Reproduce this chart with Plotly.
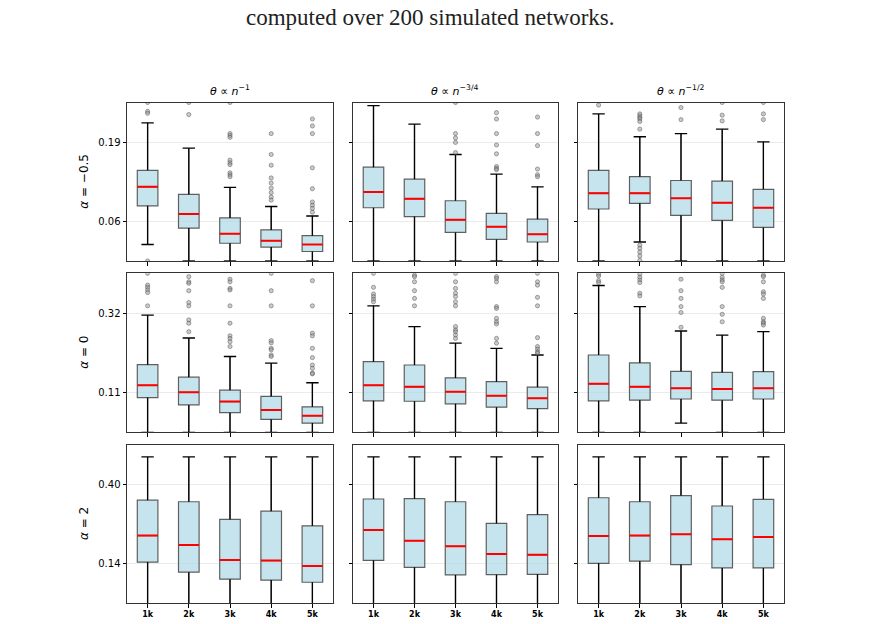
import plotly.graph_objects as go

# ---------------- data ----------------
CATEGORIES = ["1k", "2k", "3k", "4k", "5k"]
X_POS = [1, 2, 3, 4, 5]
COL_TITLES = ["<i>θ</i> ∝ <i>n</i><sup>−1</sup>",
              "<i>θ</i> ∝ <i>n</i><sup>−3/4</sup>",
              "<i>θ</i> ∝ <i>n</i><sup>−1/2</sup>"]
ROW_LABELS = ["<i>α</i> = −0.5", "<i>α</i> = 0", "<i>α</i> = 2"]
CAPTION = "computed over 200 simulated networks."

# row alpha = -0.5 (one list per column)
LOW_R1 = [[0.026, 0.0, 0.0, 0.0, 0.0],
          [0.0, 0.0, 0.0, 0.0, 0.0],
          [0.0, 0.030, 0.0, 0.0, 0.0]]
Q1_R1 = [[0.087, 0.052, 0.028, 0.022, 0.015],
         [0.084, 0.070, 0.045, 0.034, 0.030],
         [0.082, 0.091, 0.072, 0.064, 0.053]]
MED_R1 = [[0.117, 0.074, 0.043, 0.032, 0.026],
          [0.109, 0.098, 0.065, 0.054, 0.042],
          [0.107, 0.107, 0.099, 0.092, 0.084]]
Q3_R1 = [[0.143, 0.105, 0.068, 0.049, 0.040],
         [0.148, 0.129, 0.095, 0.075, 0.066],
         [0.143, 0.133, 0.127, 0.126, 0.113]]
HIGH_R1 = [[0.218, 0.178, 0.116, 0.086, 0.071],
           [0.245, 0.216, 0.168, 0.137, 0.117],
           [0.232, 0.196, 0.201, 0.208, 0.188]]
OUT_R1 = [
    [[0.25, 0.236, 0.233, 0.0],
     [0.25, 0.231],
     [0.25, 0.201, 0.198, 0.195, 0.159, 0.155, 0.152, 0.139, 0.136, 0.133],
     [0.201, 0.168, 0.151, 0.131, 0.123, 0.115, 0.108, 0.101, 0.096],
     [0.224, 0.213, 0.201, 0.147, 0.114, 0.093, 0.088, 0.083, 0.077]],
    [[],
     [],
     [0.25, 0.201, 0.194, 0.187, 0.171],
     [0.234, 0.224, 0.201, 0.183, 0.169, 0.149, 0.146, 0.144],
     [0.227, 0.201, 0.182, 0.145, 0.136, 0.133]],
    [[0.246],
     [0.232, 0.229, 0.226, 0.224, 0.220, 0.208, 0.025, 0.020, 0.014, 0.008, 0.001],
     [0.242, 0.223],
     [0.25, 0.230, 0.221],
     [0.25, 0.232, 0.223]],
]

# row alpha = 0
LOW_R2 = [[0.0, 0.0, 0.0, 0.0, 0.0],
          [0.0, 0.0, 0.0, 0.0, 0.0],
          [0.0, 0.0, 0.025, 0.0, 0.0]]
Q1_R2 = [[0.094, 0.074, 0.053, 0.035, 0.025],
         [0.085, 0.084, 0.077, 0.068, 0.064],
         [0.085, 0.087, 0.090, 0.087, 0.090]]
MED_R2 = [[0.127, 0.108, 0.083, 0.060, 0.045],
          [0.127, 0.123, 0.110, 0.099, 0.092],
          [0.131, 0.123, 0.119, 0.117, 0.119]]
Q3_R2 = [[0.183, 0.149, 0.114, 0.097, 0.069],
         [0.191, 0.182, 0.147, 0.137, 0.122],
         [0.209, 0.188, 0.165, 0.162, 0.164]]
HIGH_R2 = [[0.317, 0.255, 0.205, 0.187, 0.134],
           [0.342, 0.286, 0.241, 0.227, 0.209],
           [0.397, 0.340, 0.274, 0.263, 0.272]]
OUT_R2 = [
    [[0.43, 0.398, 0.392, 0.385, 0.378, 0.342],
     [0.421, 0.407, 0.403, 0.383, 0.351, 0.342, 0.304, 0.295, 0.272],
     [0.414, 0.407, 0.389, 0.385, 0.342, 0.295, 0.261, 0.254, 0.245, 0.232],
     [0.43, 0.383, 0.342, 0.248, 0.242, 0.227, 0.223, 0.209, 0.205],
     [0.410, 0.342, 0.268, 0.261, 0.227, 0.202, 0.182, 0.173, 0.160, 0.158]],
    [[0.43, 0.392, 0.374, 0.367, 0.360, 0.353],
     [0.425, 0.421, 0.407, 0.383, 0.362, 0.342],
     [0.43, 0.407, 0.389, 0.376, 0.367, 0.353, 0.342, 0.286, 0.277, 0.272, 0.263, 0.254],
     [0.421, 0.416, 0.407, 0.340, 0.335, 0.308, 0.299, 0.293, 0.254, 0.241],
     [0.43, 0.407, 0.398, 0.365, 0.342, 0.256, 0.232, 0.225, 0.218, 0.214]],
    [[0.428, 0.423, 0.410, 0.405],
     [0.428, 0.419, 0.412, 0.405, 0.376, 0.369],
     [0.414, 0.383, 0.362, 0.340, 0.324, 0.284],
     [0.43, 0.419, 0.412, 0.407, 0.392, 0.340, 0.319, 0.299],
     [0.425, 0.421, 0.407, 0.380, 0.374, 0.362, 0.308, 0.299, 0.295, 0.290]],
]

# row alpha = 2
LOW_R3 = [[0.0, 0.0, 0.0, 0.0, 0.0],
          [0.0, 0.0, 0.0, 0.0, 0.0],
          [0.0, 0.0, 0.0, 0.0, 0.0]]
Q1_R3 = [[0.145, 0.112, 0.089, 0.086, 0.079],
         [0.151, 0.128, 0.103, 0.104, 0.105],
         [0.141, 0.148, 0.137, 0.126, 0.126]]
MED_R3 = [[0.232, 0.201, 0.152, 0.150, 0.132],
          [0.250, 0.215, 0.197, 0.172, 0.169],
          [0.231, 0.232, 0.236, 0.220, 0.227]]
Q3_R3 = [[0.348, 0.343, 0.285, 0.312, 0.264],
         [0.352, 0.353, 0.343, 0.272, 0.301],
         [0.356, 0.343, 0.363, 0.329, 0.351]]
HIGH_R3 = [[0.49, 0.49, 0.49, 0.49, 0.49],
           [0.49, 0.49, 0.49, 0.49, 0.49],
           [0.49, 0.49, 0.49, 0.49, 0.49]]
OUT_R3 = [[[], [], [], [], []],
          [[], [], [], [], []],
          [[], [], [], [], []]]

ROWS = [
    (LOW_R1, Q1_R1, MED_R1, Q3_R1, HIGH_R1, OUT_R1),
    (LOW_R2, Q1_R2, MED_R2, Q3_R2, HIGH_R2, OUT_R2),
    (LOW_R3, Q1_R3, MED_R3, Q3_R3, HIGH_R3, OUT_R3),
]

# ---------------- layout constants ----------------
W, H = 878, 624
COL_PX = [(127, 333), (353, 558), (578, 784)]
ROW_PX = [(102.5, 261), (273.3, 432.3), (444.7, 603.3)]
Y_RANGES = [(0.0, 0.25), (0.0, 0.43), (0.01, 0.53)]
Y_TICKS = [([0.0625, 0.1875], ["0.06", "0.19"]),
           ([0.1075, 0.3225], ["0.11", "0.32"]),
           ([0.14, 0.40], ["0.14", "0.40"])]
BOX_W = 0.5
CAP_HALF = 0.15

FILL = "rgba(173,216,230,0.7)"
EDGE = "#5f5f5f"
FONT = "DejaVu Sans"

fig = go.Figure()
layout = {}

for r in range(3):
    low, q1, med, q3, high, outs = ROWS[r]
    for c in range(3):
        idx = r * 3 + c + 1
        xa = "x" if idx == 1 else f"x{idx}"
        ya = "y" if idx == 1 else f"y{idx}"
        # box body
        fig.add_trace(go.Box(
            x=X_POS, q1=q1[c], median=med[c], q3=q3[c],
            lowerfence=low[c], upperfence=high[c],
            width=BOX_W, whiskerwidth=0, fillcolor=FILL,
            line=dict(color=EDGE, width=1.2), boxpoints=False,
            showlegend=False, hoverinfo="skip", xaxis=xa, yaxis=ya))
        # whiskers and caps
        wx, wy = [], []
        for i, xp in enumerate(X_POS):
            for a, b in ((q3[c][i], high[c][i]), (q1[c][i], low[c][i])):
                wx += [xp, xp, None, xp - CAP_HALF, xp + CAP_HALF, None]
                wy += [a, b, None, b, b, None]
        fig.add_trace(go.Scatter(x=wx, y=wy, mode="lines",
                                 line=dict(color="black", width=1.3),
                                 showlegend=False, hoverinfo="skip",
                                 xaxis=xa, yaxis=ya))
        # medians
        mx, my = [], []
        for i, xp in enumerate(X_POS):
            mx += [xp - BOX_W / 2, xp + BOX_W / 2, None]
            my += [med[c][i], med[c][i], None]
        fig.add_trace(go.Scatter(x=mx, y=my, mode="lines",
                                 line=dict(color="red", width=2),
                                 showlegend=False, hoverinfo="skip",
                                 xaxis=xa, yaxis=ya))
        # outliers
        ox, oy = [], []
        for i, xp in enumerate(X_POS):
            for v in outs[c][i]:
                ox.append(xp)
                oy.append(v)
        if ox:
            fig.add_trace(go.Scatter(x=ox, y=oy, mode="markers",
                                     marker=dict(size=4.2, color="rgba(150,150,150,0.5)",
                                                 line=dict(color="rgba(70,70,70,0.55)", width=0.8)),
                                     showlegend=False, hoverinfo="skip",
                                     xaxis=xa, yaxis=ya))
        x0, x1 = COL_PX[c]
        yt, yb = ROW_PX[r]
        layout["xaxis" if idx == 1 else f"xaxis{idx}"] = dict(
            domain=[x0 / W, x1 / W], anchor=ya, range=[0.5, 5.5],
            tickmode="array", tickvals=X_POS,
            ticktext=[f"<b>{t}</b>" for t in CATEGORIES],
            showticklabels=(r == 2), ticks="outside", ticklen=3.5,
            tickwidth=1, tickcolor="black",
            tickfont=dict(family=FONT, size=8, color="black"),
            showgrid=False, zeroline=False, showline=True, mirror=True,
            linecolor="#333333", linewidth=1)
        tv, tt = Y_TICKS[r]
        layout["yaxis" if idx == 1 else f"yaxis{idx}"] = dict(
            domain=[1 - yb / H, 1 - yt / H], anchor=xa, range=list(Y_RANGES[r]),
            tickmode="array", tickvals=tv, ticktext=tt,
            showticklabels=(c == 0), ticks="outside", ticklen=3.5,
            tickwidth=1, tickcolor="black",
            tickfont=dict(family=FONT, size=10, color="black"),
            showgrid=True, gridcolor="#ebebeb", gridwidth=1,
            zeroline=False, showline=True, mirror=True,
            linecolor="#333333", linewidth=1)

annotations = []
for c in range(3):
    x0, x1 = COL_PX[c]
    annotations.append(dict(text=COL_TITLES[c], x=(x0 + x1) / 2 / W, y=1 - 100 / H,
                            xref="paper", yref="paper", xanchor="center", yanchor="bottom",
                            showarrow=False, font=dict(family=FONT, size=11, color="black")))
for r in range(3):
    yt, yb = ROW_PX[r]
    annotations.append(dict(text=ROW_LABELS[r], x=84 / W, y=1 - (yt + yb) / 2 / H,
                            xref="paper", yref="paper", xanchor="center", yanchor="middle",
                            textangle=-90, showarrow=False,
                            font=dict(family=FONT, size=12, color="black")))
annotations.append(dict(text=CAPTION, x=430 / W, y=1 - 17 / H, xref="paper", yref="paper",
                        xanchor="center", yanchor="middle", showarrow=False,
                        font=dict(family="Liberation Serif", size=23, color="#222222")))

fig.update_layout(**layout)
fig.update_layout(width=W, height=H, margin=dict(l=0, r=0, t=0, b=0),
                  plot_bgcolor="white", paper_bgcolor="white",
                  annotations=annotations, showlegend=False)

fig.write_html("out.html")
